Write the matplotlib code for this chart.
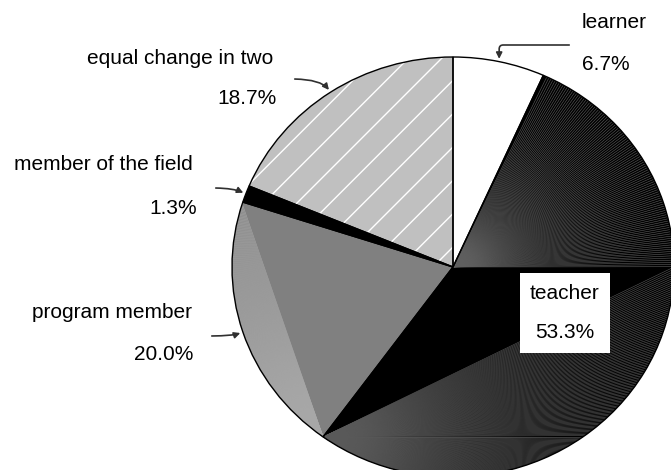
import numpy as np
import matplotlib
matplotlib.use("Agg")
import matplotlib.pyplot as plt
from matplotlib.patches import Wedge
from matplotlib.collections import LineCollection

# ================= data =================
categories = ["learner", "teacher", "program member", "member of the field", "equal change in two"]
shares = [6.7, 53.3, 20.0, 1.3, 18.7]
pct_labels = ["6.7%", "53.3%", "20.0%", "1.3%", "18.7%"]

fills = ["white", "black", "#808080", "black", "#c0c0c0"]

# ================= style =================
plt.rcParams['font.family'] = ['Liberation Sans', 'DejaVu Sans']
plt.rcParams['font.size'] = 15
plt.rcParams['hatch.linewidth'] = 1.0

W, H = 671, 470
fig = plt.figure(figsize=(W / 100, H / 100), dpi=100)
ax = fig.add_axes([0, 0, 1, 1])

cx, cy, rx, ry = 453, 267, 221, 210   # pie centre / radii in pixels


def P(x, y):
    # pixel position -> figure fraction
    return x / W, 1 - y / H


wedges, _ = ax.pie(shares, colors=fills, startangle=90, counterclock=False,
                   radius=1, wedgeprops=dict(linewidth=0))
ax.set_aspect('auto')
ax.set_xlim(-cx / rx, (W - cx) / rx)
ax.set_ylim(-(H - cy) / ry, cy / ry)
ax.axis('off')

# slice boundaries, degrees clockwise from 12 o'clock
bounds = np.concatenate([[0], np.cumsum(shares)]) / sum(shares) * 360


def rim(deg):
    a = np.radians(deg)
    return np.array([np.sin(a), np.cos(a)])


# ================= moire texture of the old export =================
V = rim(bounds[2])   # vertex between teacher and program member
fan_a = [[(0, 0), rim(d)] for d in np.arange(bounds[1] + 1, 90, 0.6)]
fan_b = [[V, rim(d)] for d in np.arange(90, bounds[2], 0.6)]
fan_c = [[V, rim(d)] for d in np.arange(bounds[2] + 0.5, bounds[3], 0.5)]

for segs, col, clip in [(fan_a, '#606060', wedges[1]), (fan_b, '#5a5a5a', wedges[1]),
                        (fan_c, '#a8a8a8', wedges[2])]:
    lc = LineCollection(segs, colors=col, linewidths=0.4, zorder=2)
    ax.add_collection(lc)
    lc.set_clip_path(clip)

# white diagonal hatch on "equal change in two"
w4 = wedges[4]
ax.add_patch(Wedge((0, 0), 1, w4.theta1, w4.theta2, facecolor='none',
                   edgecolor='white', linewidth=0, hatch='/', zorder=2))

# outlines
for w in wedges:
    ax.add_patch(Wedge((0, 0), 1, w.theta1, w.theta2, facecolor='none',
                       edgecolor='black', linewidth=1.0, zorder=3))

# ================= labels =================
mids = (bounds[:-1] + bounds[1:]) / 2
arrow_kw = dict(arrowstyle='-|>', color='#303030', lw=1.2, mutation_scale=9)

# learner
fig.text(*P(582, 22), categories[0], ha='left', va='center')
fig.text(*P(582, 65), pct_labels[0], ha='left', va='center')
ax.annotate('', xy=rim(mids[0]), xycoords='data', xytext=P(572, 45),
            textcoords='figure fraction',
            arrowprops=dict(connectionstyle='angle,angleA=0,angleB=90,rad=4', **arrow_kw))

# equal change in two
fig.text(*P(273, 58), categories[4], ha='right', va='center')
fig.text(*P(277, 98), pct_labels[4], ha='right', va='center')
ax.annotate('', xy=rim(mids[4]), xycoords='data', xytext=P(292, 79),
            textcoords='figure fraction',
            arrowprops=dict(connectionstyle='angle3,angleA=0,angleB=120', **arrow_kw))

# member of the field
fig.text(*P(193, 165), categories[3], ha='right', va='center')
fig.text(*P(197, 209), pct_labels[3], ha='right', va='center')
ax.annotate('', xy=rim(mids[3]), xycoords='data', xytext=P(213, 188),
            textcoords='figure fraction',
            arrowprops=dict(connectionstyle='angle3,angleA=0,angleB=150', **arrow_kw))

# program member
fig.text(*P(192, 313), categories[2], ha='right', va='center')
fig.text(*P(193, 355), pct_labels[2], ha='right', va='center')
ax.annotate('', xy=rim(mids[2]), xycoords='data', xytext=P(209, 336),
            textcoords='figure fraction',
            arrowprops=dict(connectionstyle='angle3,angleA=0,angleB=30', **arrow_kw))

# teacher, boxed inside its slice
fig.text(*P(565, 313), categories[1] + "\n" + pct_labels[1], ha='center', va='center',
         multialignment='center', linespacing=2.35, zorder=5,
         bbox=dict(boxstyle='square,pad=0.5', facecolor='white', edgecolor='none'))

plt.savefig('out.png', dpi=100)
